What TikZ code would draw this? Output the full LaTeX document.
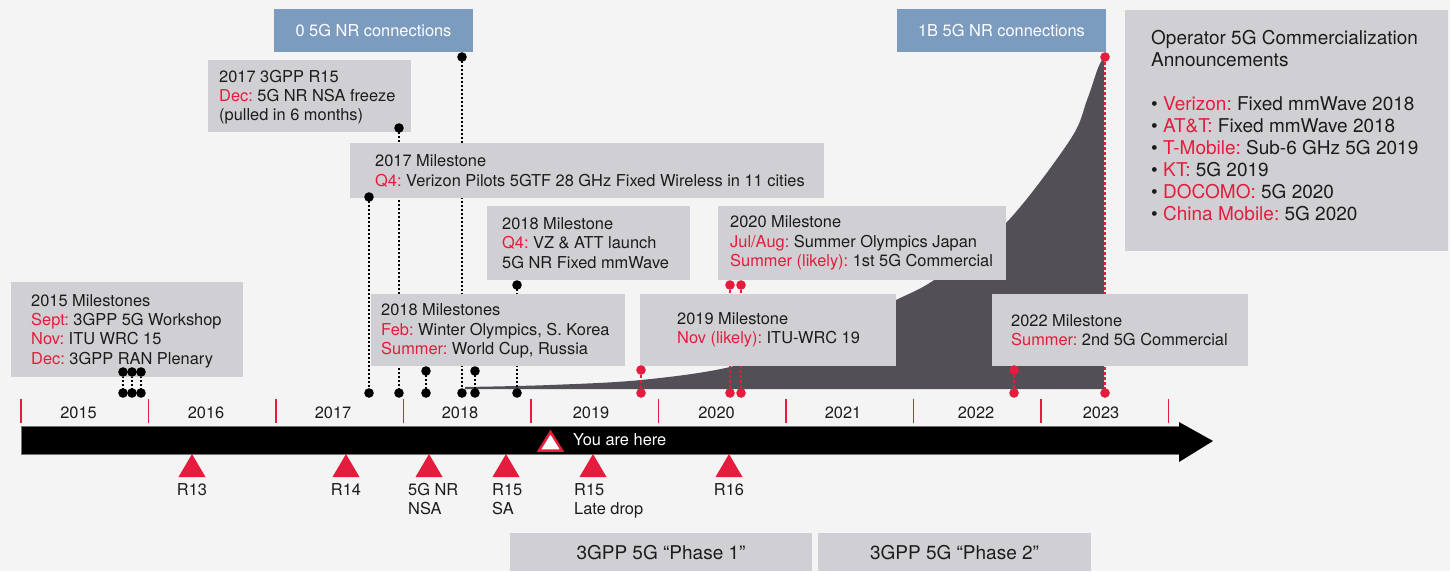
\documentclass[tikz,border=0pt]{standalone}
\usepackage{fontspec}
\setmainfont{TeX Gyre Heros}
\usepackage{tikz}
\usetikzlibrary{calc}
\frenchspacing

\definecolor{paper}{HTML}{F4F4F4}
\definecolor{boxgray}{HTML}{D0CFD3}
\definecolor{connblue}{HTML}{7B9BBF}
\definecolor{vzred}{HTML}{E51C3D}
\definecolor{areagray}{HTML}{524F56}
\definecolor{ink}{HTML}{1C1C1C}
\newcommand{\hl}[1]{\textcolor{vzred}{#1}}

\tikzset{
  txt/.style={inner sep=0pt, align=left, text=ink, font=\fontsize{16.4}{19.3}\selectfont},
  bigtxt/.style={inner sep=0pt, align=left, text=ink, font=\fontsize{19}{22}\selectfont},
  yrlab/.style={inner sep=0pt, text=ink, font=\fontsize{16.4}{19.3}\selectfont},
  blkline/.style={black, line width=1.1pt, dash pattern=on 2pt off 2pt},
  redline/.style={vzred, line width=1.1pt, dash pattern=on 3pt off 2pt},
  yeartick/.style={vzred, line width=1.4pt},
}

\begin{document}
\begin{tikzpicture}[x=1pt, y=-1pt]
  \useasboundingbox (0,0) rectangle (1450,571);
  \fill[paper] (0,0) rectangle (1450,571);

  % area connessioni 5G NR
  \fill[areagray] (465,389) -- plot[smooth, tension=0.55] coordinates {(465,387) (550,385) (641,380) (730,367) (810,340) (896,300) (937,278) (1006,223) (1070,140) (1087,100) (1098,68) (1104,57)} -- (1104,389) -- cycle;

  % punti di partenza e di arrivo
  \coordinate (s1) at (123,372); \coordinate (e1) at (123,393);
  \coordinate (s2) at (132,372); \coordinate (e2) at (132,393);
  \coordinate (s3) at (141,372); \coordinate (e3) at (141,393);
  \coordinate (s4) at (369,197); \coordinate (e4) at (369,393);
  \coordinate (s5) at (399,128); \coordinate (e5) at (399,393);
  \coordinate (s6) at (426,371); \coordinate (e6) at (426,393);
  \coordinate (s7) at (462,57);  \coordinate (e7) at (462,393);
  \coordinate (s8) at (475,371); \coordinate (e8) at (475,393);
  \coordinate (s9) at (517,285); \coordinate (e9) at (517,393);
  \coordinate (r1) at (641,370); \coordinate (f1) at (641,393);
  \coordinate (r2) at (730,285); \coordinate (f2) at (730,393);
  \coordinate (r3) at (741,285); \coordinate (f3) at (741,393);
  \coordinate (r4) at (1014,370); \coordinate (f4) at (1014,393);
  \coordinate (r5) at (1105,57); \coordinate (f5) at (1105,393);

  % collegamenti
  \draw[blkline] (s1) -- (e1);
  \draw[blkline] (s2) -- (e2);
  \draw[blkline] (s3) -- (e3);
  \draw[blkline] (s4) -- (e4);
  \draw[blkline] (s5) -- (e5);
  \draw[blkline] (s6) -- (e6);
  \draw[blkline] (s7) -- (e7);
  \draw[blkline] (s8) -- (e8);
  \draw[blkline] (s9) -- (e9);
  \draw[redline] (r1) -- (f1);
  \draw[redline] (r2) -- (f2);
  \draw[redline] (r3) -- (f3);
  \draw[redline] (r4) -- (f4);
  \draw[redline] (r5) -- (f5);

  % riquadri connessioni
  \fill[connblue] (274,9) rectangle (473,52);
  \node[txt, text=white] (zero) at (373.5,31) {0 5G NR connections};
  \fill[connblue] (897,9) rectangle (1106,52);
  \node[txt, text=white] (billion) at (1001.5,31) {1B 5G NR connections};

  % riquadri milestone
  \fill[boxgray] (11,282) rectangle (243,377);
  \node[txt, anchor=west] (m2015) at (31,331) {2015 Milestones\\\hl{Sept:} 3GPP 5G Workshop\\\hl{Nov:} ITU WRC 15\\\hl{Dec:} 3GPP RAN Plenary};

  \fill[boxgray] (208,60) rectangle (411,132);
  \node[txt, anchor=west] (r15freeze) at (219,97) {2017 3GPP R15\\\hl{Dec:} 5G NR NSA freeze\\(pulled in 6 months)};

  \fill[boxgray] (350,143) rectangle (824,198);
  \node[txt, anchor=west] (m2017) at (375,171) {2017 Milestone\\\hl{Q4:} Verizon Pilots 5GTF 28 GHz Fixed Wireless in 11 cities};

  \fill[boxgray] (487,206) rectangle (690,280);
  \node[txt, anchor=west] (m2018q4) at (502,243) {2018 Milestone\\\hl{Q4:} VZ \& ATT launch\\5G NR Fixed mmWave};

  \fill[boxgray] (718,206) rectangle (1006,280);
  \node[txt, anchor=west] (m2020) at (730,243) {2020 Milestone\\\hl{Jul/Aug:} Summer Olympics Japan\\\hl{Summer (likely):} 1st 5G Commercial};

  \fill[boxgray] (371,294) rectangle (625,366);
  \node[txt, anchor=west] (m2018) at (381,331) {2018 Milestones\\\hl{Feb:} Winter Olympics, S. Korea\\\hl{Summer:} World Cup, Russia};

  \fill[boxgray] (640,294) rectangle (896,366);
  \node[txt, anchor=west] (m2019) at (677,330) {2019 Milestone\\\hl{Nov (likely):} ITU-WRC 19};

  \fill[boxgray] (992,294) rectangle (1248,366);
  \node[txt, anchor=west] (m2022) at (1011,330) {2022 Milestone\\\hl{Summer:} 2nd 5G Commercial};

  % annunci operatori
  \fill[boxgray] (1125,10) rectangle (1448,251);
  \node[bigtxt, anchor=west] (opstitle) at (1151,49) {Operator 5G Commercialization\\Announcements};
  \node[bigtxt, anchor=west] (opslist) at (1151,159) {\textbullet\ \hl{Verizon:} Fixed mmWave 2018\\\textbullet\ \hl{AT\&T:} Fixed mmWave 2018\\\textbullet\ \hl{T-Mobile:} Sub-6 GHz 5G 2019\\\textbullet\ \hl{KT:} 5G 2019\\\textbullet\ \hl{DOCOMO:} 5G 2020\\\textbullet\ \hl{China Mobile:} 5G 2020};

  % pallini
  \fill (s1) circle (4.8pt); \fill (e1) circle (4.8pt);
  \fill (s2) circle (4.8pt); \fill (e2) circle (4.8pt);
  \fill (s3) circle (4.8pt); \fill (e3) circle (4.8pt);
  \fill (s4) circle (4.8pt); \fill (e4) circle (4.8pt);
  \fill (s5) circle (4.8pt); \fill (e5) circle (4.8pt);
  \fill (s6) circle (4.8pt); \fill (e6) circle (4.8pt);
  \fill (s7) circle (4.8pt); \fill (e7) circle (4.8pt);
  \fill (s8) circle (4.8pt); \fill (e8) circle (4.8pt);
  \fill (s9) circle (4.8pt); \fill (e9) circle (4.8pt);
  \fill[vzred] (r1) circle (4.8pt); \fill[vzred] (f1) circle (4.8pt);
  \fill[vzred] (r2) circle (4.8pt); \fill[vzred] (f2) circle (4.8pt);
  \fill[vzred] (r3) circle (4.8pt); \fill[vzred] (f3) circle (4.8pt);
  \fill[vzred] (r4) circle (4.8pt); \fill[vzred] (f4) circle (4.8pt);
  \fill[vzred] (r5) circle (4.8pt); \fill[vzred] (f5) circle (4.8pt);

  % anni
  \draw[yeartick] (21,399) -- (21,423);
  \draw[yeartick] (148.5,399) -- (148.5,423);
  \draw[yeartick] (276,399) -- (276,423);
  \draw[yeartick] (403.5,399) -- (403.5,423);
  \draw[yeartick] (531,399) -- (531,423);
  \draw[yeartick] (658.5,399) -- (658.5,423);
  \draw[yeartick] (786,399) -- (786,423);
  \draw[yeartick] (913.5,399) -- (913.5,423);
  \draw[yeartick] (1041,399) -- (1041,423);
  \draw[yeartick] (1168.5,399) -- (1168.5,423);
  \node[yrlab] (y2015) at (78.5,413) {2015};
  \node[yrlab] (y2016) at (206,413) {2016};
  \node[yrlab] (y2017) at (333,413) {2017};
  \node[yrlab] (y2018) at (460,413) {2018};
  \node[yrlab] (y2019) at (591,413) {2019};
  \node[yrlab] (y2020) at (716.5,413) {2020};
  \node[yrlab] (y2021) at (843,413) {2021};
  \node[yrlab] (y2022) at (976,413) {2022};
  \node[yrlab] (y2023) at (1101,413) {2023};

  % freccia del tempo
  \filldraw[fill=black, draw=black!55, line width=0.8pt] (21,426.5) rectangle (1180,454.5);
  \fill (1179,422) -- (1213,441) -- (1179,462) -- cycle;

  % voi siete qui
  \filldraw[fill=white, draw=vzred, line width=2.5pt] (539,450.5) -- (550.5,432) -- (562,450.5) -- cycle;
  \node[txt, text=white, anchor=west] (here) at (573,440) {You are here};

  % release 3GPP
  \fill[vzred] (178.5,477) -- (192,454) -- (205.5,477) -- cycle;
  \node[txt, anchor=north] (r13) at (192,483) {R13};
  \fill[vzred] (332.5,477) -- (346,454) -- (359.5,477) -- cycle;
  \node[txt, anchor=north] (r14) at (346,483) {R14};
  \fill[vzred] (415.5,477) -- (429,454) -- (442.5,477) -- cycle;
  \node[txt, anchor=north west] (nsa) at (408,483) {5G NR\\NSA};
  \fill[vzred] (492.5,477) -- (506,454) -- (519.5,477) -- cycle;
  \node[txt, anchor=north west] (r15sa) at (492,483) {R15\\SA};
  \fill[vzred] (579.5,477) -- (593,454) -- (606.5,477) -- cycle;
  \node[txt, anchor=north west] (r15late) at (574,483) {R15\\Late drop};
  \fill[vzred] (715.5,477) -- (729,454) -- (742.5,477) -- cycle;
  \node[txt, anchor=north] (r16) at (729,483) {R16};

  % fasi
  \fill[boxgray] (510,533) rectangle (812,571);
  \node[bigtxt] (phase1) at (661,553) {3GPP 5G “Phase 1”};
  \fill[boxgray] (818,533) rectangle (1091,571);
  \node[bigtxt] (phase2) at (954.5,553) {3GPP 5G “Phase 2”};
\end{tikzpicture}
\end{document}
